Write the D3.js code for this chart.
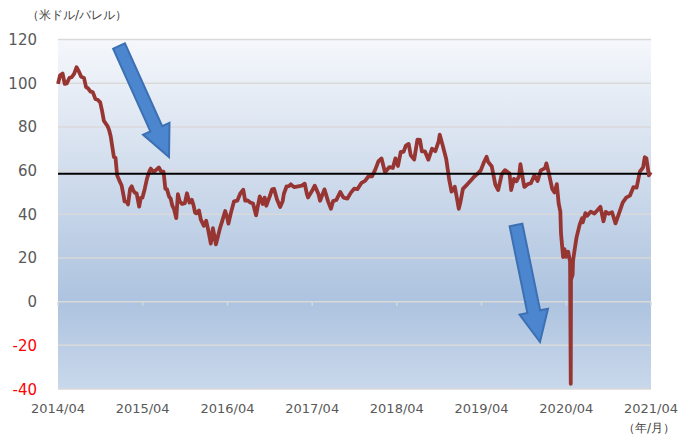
<!DOCTYPE html>
<meta charset="utf-8">
<script src="https://d3js.org/d3.v7.min.js"></script>
<style>
  body { margin: 0; background: #fff; }
  text { font-family: "DejaVu Sans", Verdana, sans-serif; }
</style>
<svg id="chart" width="678" height="434"></svg>
<script>
// WTI price (USD/bbl), approx. readings
var dates = [
  "2014-04-01","2014-04-10","2014-04-21","2014-04-30","2014-05-09","2014-05-20","2014-05-30","2014-06-10","2014-06-20","2014-06-30",
  "2014-07-10","2014-07-22","2014-07-31","2014-08-08","2014-08-20","2014-08-29","2014-09-09","2014-09-19","2014-09-30","2014-10-08",
  "2014-10-16","2014-10-31","2014-11-07","2014-11-14","2014-11-28","2014-12-05","2014-12-12","2014-12-22","2014-12-31","2015-01-09",
  "2015-01-13","2015-01-23","2015-01-28","2015-02-06","2015-02-13","2015-02-20","2015-02-27","2015-03-06","2015-03-17","2015-03-24",
  "2015-03-31","2015-04-10","2015-04-20","2015-04-30","2015-05-06","2015-05-15","2015-05-22","2015-05-29","2015-06-10","2015-06-19",
  "2015-06-30","2015-07-08","2015-07-15","2015-07-24","2015-07-31","2015-08-07","2015-08-14","2015-08-24","2015-08-31","2015-09-08",
  "2015-09-18","2015-09-30","2015-10-09","2015-10-20","2015-10-30","2015-11-06","2015-11-13","2015-11-20","2015-11-30","2015-12-08",
  "2015-12-21","2015-12-31","2016-01-08","2016-01-20","2016-01-29","2016-02-11","2016-02-19","2016-02-29","2016-03-08","2016-03-22",
  "2016-03-31","2016-04-05","2016-04-15","2016-04-29","2016-05-13","2016-05-26","2016-06-08","2016-06-16","2016-06-27","2016-07-08",
  "2016-07-20","2016-08-02","2016-08-18","2016-08-31","2016-09-08","2016-09-15","2016-09-30","2016-10-10","2016-10-19","2016-10-31",
  "2016-11-14","2016-11-25","2016-11-30","2016-12-12","2016-12-22","2016-12-30","2017-01-13","2017-01-31","2017-02-15","2017-02-28",
  "2017-03-09","2017-03-14","2017-03-31","2017-04-12","2017-04-28","2017-05-05","2017-05-24","2017-06-09","2017-06-21","2017-06-30",
  "2017-07-14","2017-07-31","2017-08-14","2017-08-31","2017-09-15","2017-09-29","2017-10-13","2017-10-31","2017-11-15","2017-11-30",
  "2017-12-15","2017-12-29","2018-01-12","2018-01-25","2018-02-09","2018-02-28","2018-03-15","2018-03-26","2018-04-06","2018-04-18",
  "2018-04-30","2018-05-10","2018-05-22","2018-05-31","2018-06-15","2018-06-29","2018-07-10","2018-07-18","2018-07-31","2018-08-15",
  "2018-08-31","2018-09-14","2018-09-28","2018-10-03","2018-10-15","2018-10-31","2018-11-13","2018-11-23","2018-11-30","2018-12-07",
  "2018-12-18","2018-12-24","2018-12-31","2019-01-11","2019-01-31","2019-02-15","2019-02-28","2019-03-15","2019-03-29","2019-04-12",
  "2019-04-23","2019-04-30","2019-05-15","2019-05-31","2019-06-12","2019-06-28","2019-07-11","2019-07-31","2019-08-07","2019-08-19",
  "2019-08-30","2019-09-10","2019-09-16","2019-09-30","2019-10-03","2019-10-18","2019-10-31","2019-11-15","2019-11-29","2019-12-13",
  "2019-12-31","2020-01-06","2020-01-17","2020-01-31","2020-02-10","2020-02-20","2020-02-28","2020-03-06","2020-03-09","2020-03-18",
  "2020-03-24","2020-03-31","2020-04-09","2020-04-17","2020-04-20","2020-04-21","2020-04-28","2020-04-30","2020-05-08","2020-05-15",
  "2020-05-29","2020-06-08","2020-06-11","2020-06-22","2020-06-30","2020-07-15","2020-07-31","2020-08-14","2020-08-26","2020-09-08",
  "2020-09-18","2020-09-30","2020-10-15","2020-10-30","2020-11-13","2020-11-30","2020-12-15","2020-12-31","2021-01-15","2021-01-29",
  "2021-02-12","2021-02-26","2021-03-05","2021-03-12","2021-03-23","2021-03-31"
];
var prices = [
  99.7,103.6,104.4,99.7,99.9,102.4,102.7,104.4,107.3,105.4,
  102.9,102.4,98.2,97.7,96.1,95.9,92.8,92.4,91.2,87.3,
  82.7,80.5,78.7,75.8,66.2,65.8,57.8,55.3,53.3,48.4,
  45.9,45.6,44.5,51.7,52.8,50.8,49.8,49.6,43.5,47.5,
  47.6,51.6,56.4,59.6,60.9,59.7,59.7,60.3,61.4,59.6,
  59.5,51.7,51.4,48.1,47.1,43.9,42.5,38.2,49.2,45.9,
  44.7,45.1,49.6,45.3,46.6,44.3,40.7,40.4,41.7,37.5,
  34.7,37.0,33.2,26.6,33.6,26.2,29.6,33.8,36.5,41.5,
  38.3,35.7,40.4,45.9,46.2,49.5,51.2,46.2,46.3,45.4,
  44.9,39.5,48.2,44.7,47.6,43.9,48.2,51.4,51.6,46.9,
  43.3,46.1,49.4,52.8,52.9,53.7,52.4,52.8,53.1,54.0,
  49.3,47.7,50.6,53.1,49.3,46.2,51.4,45.8,42.5,46.0,
  46.5,50.2,47.6,47.2,49.9,51.7,51.5,54.4,55.3,57.4,
  57.3,60.4,64.3,65.5,59.2,61.6,61.2,65.6,62.1,68.5,
  68.6,71.4,72.2,67.0,65.1,74.2,74.0,68.8,68.8,65.0,
  70.0,68.9,73.2,76.4,71.8,65.3,55.7,50.4,50.9,52.6,
  46.2,42.5,45.4,51.6,53.8,55.6,57.2,58.5,60.1,63.9,
  66.3,63.9,62.0,53.5,51.1,58.5,60.2,58.6,51.1,56.2,
  55.1,57.4,62.9,54.1,52.5,53.8,54.2,57.7,55.2,60.1,
  61.1,63.3,58.5,51.6,50.0,53.8,44.8,41.3,31.1,20.4,
  24.0,20.5,22.8,18.3,-37.6,10.0,12.3,18.8,24.7,29.4,
  35.5,38.2,36.3,40.5,39.3,41.2,40.3,42.0,43.4,36.8,
  41.1,40.2,40.9,35.8,40.1,45.3,47.6,48.5,52.4,52.2,
  59.5,61.5,66.1,65.6,57.8,59.2
];
var refLevel = 58.5;   // horizontal black line
var yTicks = [-40, -20, 0, 20, 40, 60, 80, 100, 120];
var xTickDates = ["2014-04-01","2015-04-01","2016-04-01","2017-04-01","2018-04-01","2019-04-01","2020-04-01","2021-04-01"];
var yUnit = "（米ドル/バレル）";
var xUnit = "（年/月）";

(function() {
var parse = d3.timeParse("%Y-%m-%d");
var data = dates.map(function(d, i) { return { date: parse(d), value: prices[i] }; });
var xTicks = xTickDates.map(parse);

var svg = d3.select("#chart");
var plotLeft = 58, plotRight = 651, plotTop = 39.5, plotBottom = 389;

var x = d3.scaleTime()
    .domain([xTicks[0], xTicks[xTicks.length - 1]])
    .range([plotLeft, plotRight]);
var y = d3.scaleLinear()
    .domain([-40, 120])
    .range([plotBottom, plotTop]);

// background gradient
var grad = svg.append("defs").append("linearGradient")
    .attr("id", "bg").attr("x1", 0).attr("y1", 0).attr("x2", 0).attr("y2", 1);
grad.append("stop").attr("offset", "0%").attr("stop-color", "#f5f7fb");
grad.append("stop").attr("offset", "75%").attr("stop-color", "#adc3df");
grad.append("stop").attr("offset", "100%").attr("stop-color", "#c9d8eb");

svg.append("rect")
    .attr("x", plotLeft).attr("y", plotTop)
    .attr("width", plotRight - plotLeft).attr("height", plotBottom - plotTop)
    .attr("fill", "url(#bg)");

// gridlines
svg.append("g").selectAll("line")
    .data(yTicks)
    .enter().append("line")
    .attr("x1", plotLeft).attr("x2", plotRight)
    .attr("y1", function(d) { return y(d); })
    .attr("y2", function(d) { return y(d); })
    .attr("stroke", "#d9d9d9")
    .attr("stroke-width", 1.5);

// x tick marks on zero line
svg.append("g").selectAll("line")
    .data(xTicks)
    .enter().append("line")
    .attr("x1", function(d) { return x(d); })
    .attr("x2", function(d) { return x(d); })
    .attr("y1", y(0)).attr("y2", y(0) + 4)
    .attr("stroke", "#d9d9d9")
    .attr("stroke-width", 1.5);

// y labels
svg.append("g").selectAll("text")
    .data(yTicks)
    .enter().append("text")
    .attr("x", 37)
    .attr("y", function(d) { return y(d) + 5.5; })
    .attr("text-anchor", "end")
    .attr("font-size", 15)
    .attr("fill", function(d) { return d < 0 ? "#ff0000" : "#595959"; })
    .text(function(d) { return d; });

// x labels
var fmt = d3.timeFormat("%Y/%m");
svg.append("g").selectAll("text")
    .data(xTicks)
    .enter().append("text")
    .attr("x", function(d) { return x(d); })
    .attr("y", 413)
    .attr("text-anchor", "middle")
    .attr("font-size", 13)
    .attr("fill", "#595959")
    .text(function(d) { return fmt(d); });

// price line
var line = d3.line()
    .x(function(d) { return x(d.date); })
    .y(function(d) { return y(d.value); });

svg.append("path")
    .datum(data)
    .attr("d", line)
    .attr("fill", "none")
    .attr("stroke", "#973533")
    .attr("stroke-width", 3.8)
    .attr("stroke-linejoin", "round");

// reference line
svg.append("line")
    .attr("x1", plotLeft).attr("x2", plotRight - 4)
    .attr("y1", y(refLevel)).attr("y2", y(refLevel))
    .attr("stroke", "#000")
    .attr("stroke-width", 2);

// arrows
function arrow(x0, y0, x1, y1) {
    var dx = x1 - x0, dy = y1 - y0, len = Math.sqrt(dx * dx + dy * dy);
    var ux = dx / len, uy = dy / len, px = -uy, py = ux;
    var sw = 6.5, hw = 14.5, hl = 31;
    var bx = x1 - ux * hl, by = y1 - uy * hl;
    var pts = [
        [x0 + px * sw, y0 + py * sw], [bx + px * sw, by + py * sw], [bx + px * hw, by + py * hw],
        [x1, y1],
        [bx - px * hw, by - py * hw], [bx - px * sw, by - py * sw], [x0 - px * sw, y0 - py * sw]
    ];
    svg.append("path")
        .attr("d", "M" + pts.join("L") + "Z")
        .attr("fill", "#4b86cf")
        .attr("stroke", "#3c70b3")
        .attr("stroke-width", 2)
        .attr("stroke-linejoin", "miter");
}
arrow(119, 46, 169, 157);
arrow(516, 225, 540, 342);

// unit labels
svg.append("text")
    .attr("x", 27).attr("y", 19)
    .attr("font-family", "'Noto Sans CJK JP', sans-serif")
    .attr("font-size", 12)
    .attr("fill", "#404040")
    .text(yUnit);

svg.append("text")
    .attr("x", 623).attr("y", 432)
    .attr("font-family", "'Noto Sans CJK JP', sans-serif")
    .attr("font-size", 12)
    .attr("fill", "#404040")
    .text(xUnit);
})();
</script>
